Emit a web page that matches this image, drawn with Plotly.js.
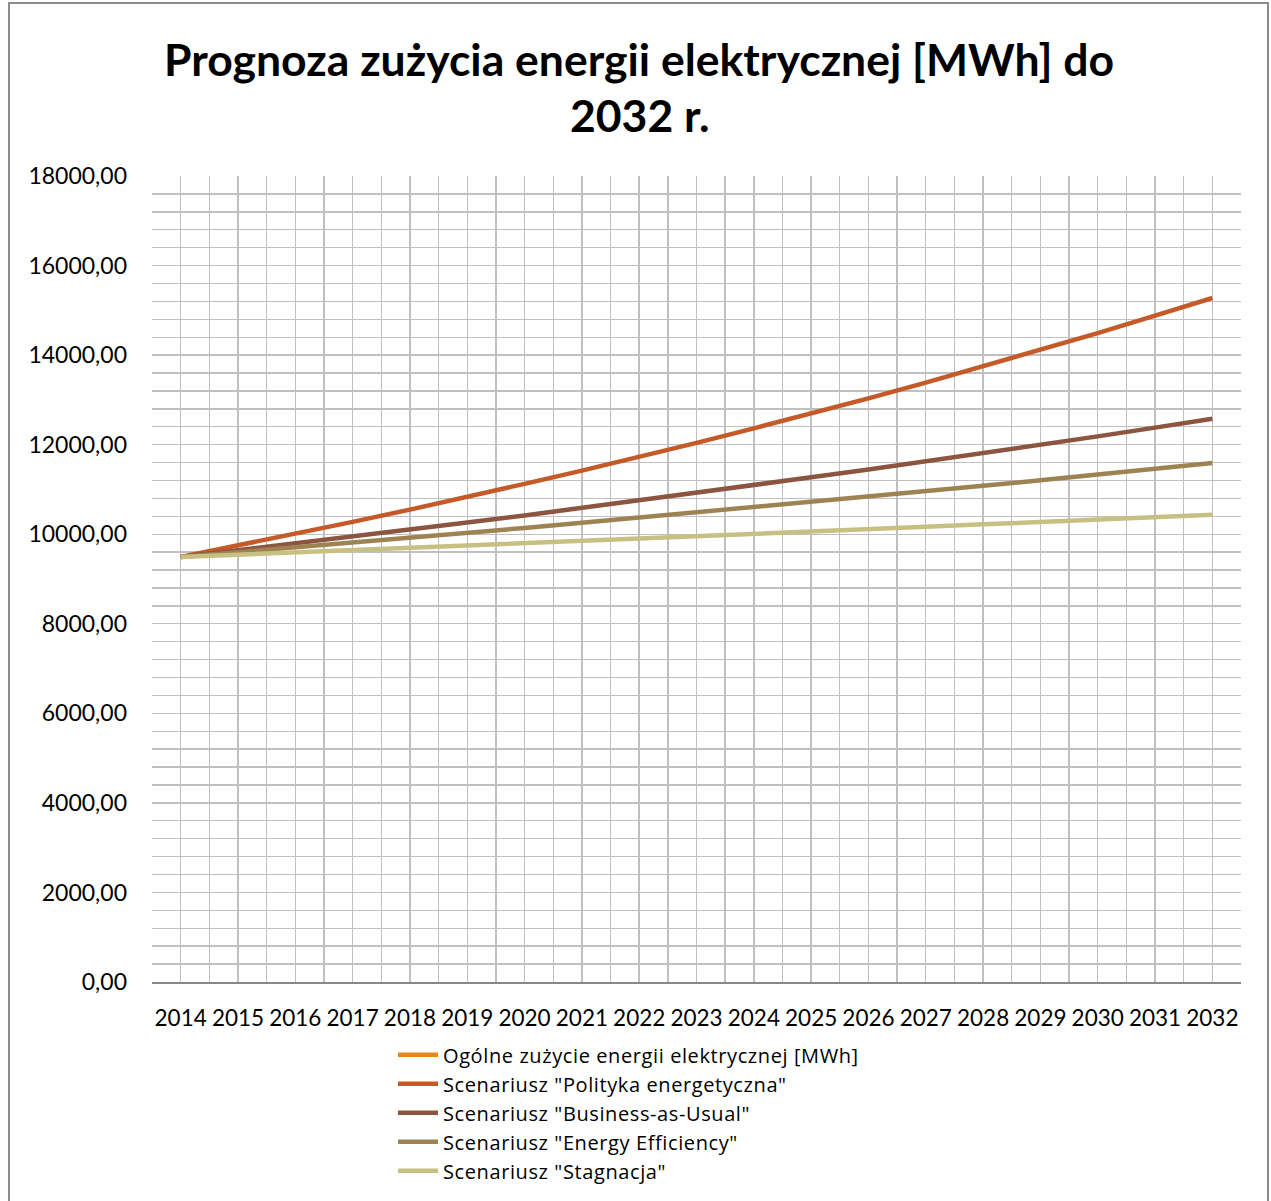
<!DOCTYPE html>
<html>
<head>
<meta charset="utf-8">
<script src="https://cdn.plot.ly/plotly-3.0.1.min.js"></script>
<style>
  body { margin: 0; background: #fff; }
  #chart { width: 1271px; height: 1201px; }
  #frame { position: absolute; left: 8px; top: 2px; width: 1261px; height: 1210px;
           border: 2px solid #8c8c8c; box-sizing: border-box; pointer-events: none; }
  .legendtext { letter-spacing: 0.6px; }
</style>
</head>
<body>
<div id="chart"></div>
<div id="frame"></div>
<script>
// years on the category axis
const years = [2014, 2015, 2016, 2017, 2018, 2019, 2020, 2021, 2022, 2023,
               2024, 2025, 2026, 2027, 2028, 2029, 2030, 2031, 2032];

// values [MWh]
const ogolne = [9490];
const polityka = [9490, 9745, 10005, 10275, 10550, 10830, 11125, 11420, 11725, 12040,
                  12365, 12695, 13035, 13385, 13745, 14110, 14490, 14880, 15275];
const bau = [9490, 9640, 9790, 9945, 10100, 10260, 10420, 10585, 10750, 10920,
             11095, 11270, 11445, 11625, 11810, 11995, 12185, 12380, 12580];
const efficiency = [9490, 9595, 9705, 9810, 9920, 10030, 10140, 10255, 10370, 10485,
                    10600, 10720, 10840, 10960, 11080, 11205, 11330, 11455, 11590];
const stagnacja = [9490, 9540, 9590, 9640, 9690, 9745, 9795, 9845, 9900, 9950,
                   10005, 10055, 10110, 10165, 10220, 10270, 10325, 10380, 10437];

const names = [
    'Ogólne zużycie energii elektrycznej [MWh]',
    'Scenariusz "Polityka energetyczna"',
    'Scenariusz "Business-as-Usual"',
    'Scenariusz "Energy Efficiency"',
    'Scenariusz "Stagnacja"'
];
const colors = ['#E8861E', '#C55A28', '#8B5540', '#9E8352', '#C8BF82'];
const series = [ogolne, polityka, bau, efficiency, stagnacja];

const titleLines = ['Prognoza zużycia energii elektrycznej [MWh] do', '2032 r.'];

const font = 'Lato, "Open Sans", sans-serif';

const traces = series.map((vals, i) => ({
    x: years.slice(0, vals.length),
    y: vals,
    type: 'scatter',
    mode: 'lines',
    name: names[i],
    line: { color: colors[i], width: 4.5 }
}));

// title drawn as two centred lines
const titleAnnotations = titleLines.map((t, i) => ({
    text: '<b>' + t + '</b>',
    xref: 'paper',
    yref: 'paper',
    x: 0.4472,
    y: i === 0 ? 1.1464 : 1.0757,
    xanchor: 'center',
    yanchor: 'middle',
    showarrow: false,
    font: { family: font, size: 44.5, color: '#000' }
}));

const layout = {
    width: 1271,
    height: 1201,
    margin: { l: 152, r: 30, t: 176, b: 219, autoexpand: false },
    paper_bgcolor: 'rgba(0,0,0,0)',
    plot_bgcolor: '#fff',
    separators: ',.',
    font: { family: font, size: 22, color: '#000' },
    annotations: titleAnnotations,
    xaxis: {
        range: [2013.5, 2032.5],
        tickmode: 'linear',
        tick0: 2014,
        dtick: 1,
        showgrid: true,
        gridcolor: '#c0c0c0',
        gridwidth: 1.4,
        minor: { tickmode: 'linear', tick0: 2013.5, dtick: 1, showgrid: true,
                 gridcolor: '#c0c0c0', gridwidth: 1.4 },
        showline: true,
        linecolor: '#878787',
        linewidth: 2,
        zeroline: false,
        ticks: '',
        ticklabelstandoff: 15,
        tickfont: { family: font, size: 22.5, color: '#000' }
    },
    yaxis: {
        range: [0, 18000],
        tickmode: 'linear',
        tick0: 0,
        dtick: 2000,
        tickformat: '.2f',
        showgrid: true,
        gridcolor: '#c0c0c0',
        gridwidth: 1.4,
        minor: { tickmode: 'linear', dtick: 400, showgrid: true,
                 gridcolor: '#c0c0c0', gridwidth: 1.4 },
        showline: false,
        zeroline: false,
        ticks: '',
        ticklabelstandoff: 24,
        tickfont: { family: font, size: 23, color: '#000' }
    },
    showlegend: true,
    legend: {
        orientation: 'v',
        x: 0.2213,
        xanchor: 'left',
        y: -0.066,
        yanchor: 'top',
        bgcolor: 'rgba(0,0,0,0)',
        font: { family: '"Open Sans", Lato, sans-serif', size: 20, color: '#000' },
        tracegroupgap: 0,
        itemwidth: 40
    }
};

Plotly.newPlot('chart', traces, layout, { displayModeBar: false, staticPlot: true });
</script>
</body>
</html>
